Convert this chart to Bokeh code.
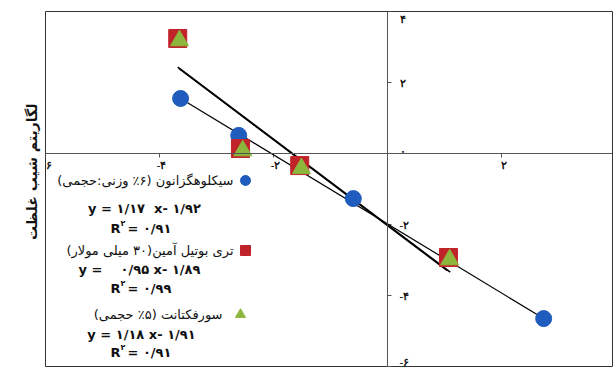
from bokeh.plotting import figure
from bokeh.models import Span, Label, LabelSet, ColumnDataSource, Title
from bokeh.embed import file_html
from bokeh.resources import INLINE

# ---------------- data ----------------
cyc_x = [-3.63, -2.61, -0.60, 2.74]
cyc_y = [1.55, 0.51, -1.27, -4.65]
tba_x = [-3.68, -2.58, -1.54, 1.07]
tba_y = [3.24, 0.14, -0.34, -2.93]
sur_x = [-3.65, -2.54, -1.51, 1.09]
sur_y = [3.18, 0.08, -0.42, -2.99]

cyc_fit_x = [-3.63, 2.74]
cyc_fit_y = [1.55, -4.65]
tba_fit_x = [-3.68, 1.10]
tba_fit_y = [2.43, -3.34]
sur_fit_x = [-3.66, 1.05]
sur_fit_y = [2.40, -3.30]

x_ticks = [-6, -4, -2, 2]
x_tick_labels = ["-۶", "-۴", "-۲", "۲"]
y_ticks = [4, 2, 0, -2, -4, -6]
y_tick_labels = ["۴", "۲", "۰", "-۲", "-۴", "-۶"]

y_title = "لگاریتم شیب غلظت"
legend_names = ["سیکلوهگزانون (۶٪ وزنی:حجمی)",
                "تری بوتیل آمین(۳۰ میلی مولار)",
                "سورفکتانت (۵٪ حجمی)"]
NB = "\u00a0"
legend_eqs = ["y = ۱/۱۷" + NB + NB + "x- ۱/۹۲",
              "y =" + NB * 4 + "۰/۹۵ x- ۱/۸۹",
              "y = ۱/۱۸ x- ۱/۹۱"]
legend_r2 = ["۰/۹۱", "۰/۹۹", "۰/۹۱"]

BLUE = "#1f5cbd"
RED = "#c0242a"
GREEN = "#8cb63c"
FONT = "DejaVu Sans"
RLM = "\u200f"

# ---------------- layout ----------------
W, H = 613, 367
ML, MR, MT, MB = 45, 1, 11, 0
FW, FH = W - ML - MR, H - MT - MB
PPX, PPY = 57.0, 35.5
X0 = -6.0
Y1 = 4.0
X1 = X0 + FW / PPX
Y0 = Y1 - FH / PPY

# window px -> data
def dx(px):
    return X0 + (px - ML) / PPX

def dy(py):
    return Y1 - (py - MT) / PPY

p = figure(width=W, height=H, x_range=(X0, X1), y_range=(Y0, Y1),
           output_backend="svg", toolbar_location=None,
           x_axis_location=None, y_axis_location=None,
           min_border_left=ML, min_border_right=MR,
           min_border_top=MT, min_border_bottom=MB)
p.grid.visible = False
p.outline_line_color = "#333333"
p.outline_line_width = 1
p.background_fill_color = "white"
p.border_fill_color = "white"

# y title
p.add_layout(Title(text=y_title, align="right", offset=92, text_font=FONT,
                   text_font_style="bold", text_font_size="14px", text_color="#111111",
                   standoff=11), "left")

# centre axes
p.add_layout(Span(location=0, dimension="height", line_color="#555555", line_width=1))
p.add_layout(Span(location=0, dimension="width", line_color="#555555", line_width=1))

# ticks
tl = 4.0
p.segment(x0=x_ticks, x1=x_ticks, y0=[0] * len(x_ticks), y1=[-tl / PPY] * len(x_ticks),
          line_color="#555555", line_width=1)
p.segment(x0=[0] * len(y_ticks), x1=[tl / PPX] * len(y_ticks), y0=y_ticks, y1=y_ticks,
          line_color="#555555", line_width=1)

# tick labels
xl_src = ColumnDataSource(dict(x=[t + 2 / PPX for t in x_ticks],
                               y=[-11 / PPY] * len(x_ticks), text=x_tick_labels))
p.add_layout(LabelSet(x="x", y="y", text="text", source=xl_src, text_align="center",
                      text_baseline="middle", text_font=FONT, text_font_style="bold",
                      text_font_size="11px", text_color="#111111"))
ylp = [min(max(t, Y0 + 6 / PPY), Y1 - 7.5 / PPY) for t in y_ticks]
ylp = [v + (3 / PPY if t == 0 else 0) for v, t in zip(ylp, y_ticks)]
yl_src = ColumnDataSource(dict(x=[12 / PPX] * len(y_ticks), y=ylp, text=y_tick_labels))
p.add_layout(LabelSet(x="x", y="y", text="text", source=yl_src, text_align="left",
                      text_baseline="middle", text_font=FONT, text_font_style="bold",
                      text_font_size="11px", text_color="#111111"))

# fit lines
p.line(cyc_fit_x, cyc_fit_y, line_color="black", line_width=1.2)
p.line(tba_fit_x, tba_fit_y, line_color="black", line_width=1.6)
p.line(sur_fit_x, sur_fit_y, line_color="black", line_width=1.6)

# markers
p.scatter(cyc_x, cyc_y, marker="circle", size=16, fill_color=BLUE, line_color=BLUE)
p.scatter(tba_x, tba_y, marker="square", size=18, fill_color=RED, line_color=RED)
p.scatter(sur_x, sur_y, marker="triangle", size=18, fill_color=GREEN, line_color=GREEN)

# legend
name_right = [233, 233, 222]
name_y = [180, 250, 314]
mark_x = [245, 245, 240]
eq_x = [144, 139, 141]
eq_y = [208, 269, 334]
r2_y = [228, 288, 352]
markers = ["circle", "square", "triangle"]
colors = [BLUE, RED, GREEN]
for i in range(3):
    p.add_layout(Label(x=dx(name_right[i]), y=dy(name_y[i]),
                       text=RLM + legend_names[i] + RLM,
                       text_align="right", text_baseline="middle", text_font=FONT,
                       text_font_size="13px", text_color="#111111"))
    p.scatter([dx(mark_x[i])], [dy(name_y[i])], marker=markers[i], size=10,
              fill_color=colors[i], line_color=colors[i])
    p.add_layout(Label(x=dx(eq_x[i]), y=dy(eq_y[i]), text=legend_eqs[i],
                       text_align="center", text_baseline="middle", text_font=FONT,
                       text_font_style="bold", text_font_size="13px", text_color="#111111"))
    p.add_layout(Label(x=dx(110), y=dy(r2_y[i]), text="R",
                       text_align="left", text_baseline="middle", text_font=FONT,
                       text_font_style="bold", text_font_size="13px", text_color="#111111"))
    p.add_layout(Label(x=dx(120), y=dy(r2_y[i] - 5), text="۲",
                       text_align="left", text_baseline="middle", text_font=FONT,
                       text_font_style="bold", text_font_size="8px", text_color="#111111"))
    p.add_layout(Label(x=dx(127), y=dy(r2_y[i]), text="= " + legend_r2[i],
                       text_align="left", text_baseline="middle", text_font=FONT,
                       text_font_style="bold", text_font_size="13px", text_color="#111111"))

open("out.html", "w").write(file_html(p, INLINE))
